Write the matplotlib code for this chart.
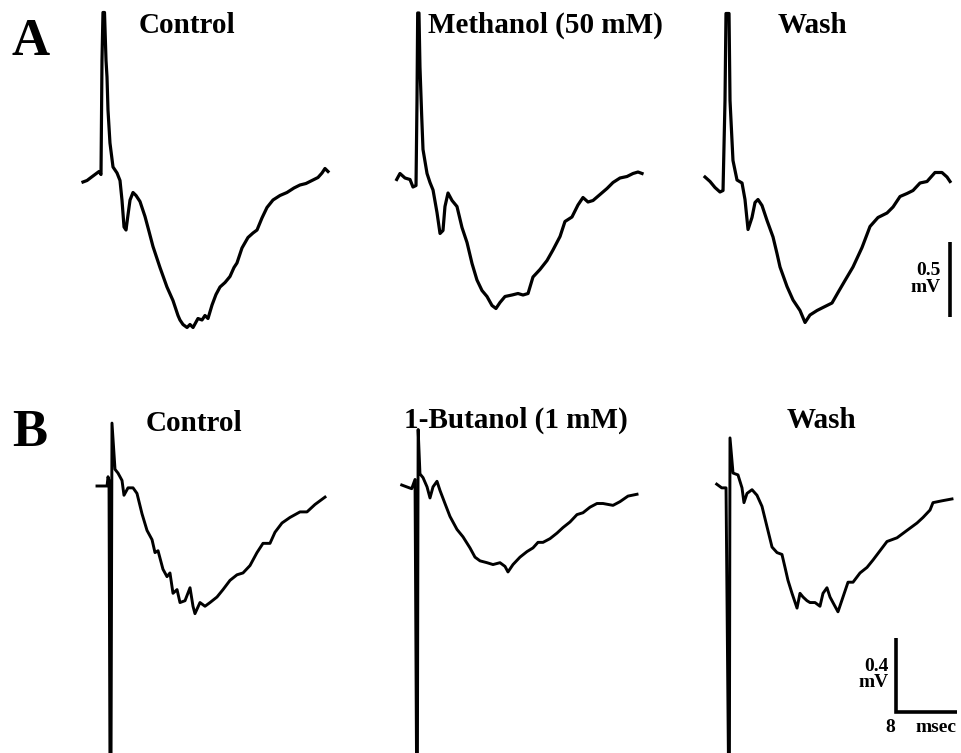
import matplotlib
matplotlib.use("Agg")
import matplotlib.pyplot as plt

# traces: time in msec after the stimulus, voltage in mV from the baseline
a_control_t = [-2.37, -1.84, -1.32, -0.79, -0.26, 0.0, 0.13, 0.26, 0.46, 0.66, 0.79, 0.92, 1.18, 1.58, 2.11,
               2.50, 2.76, 3.03, 3.29, 3.55, 3.82, 4.21, 4.61, 5.13, 5.79, 6.32, 6.84, 7.76, 8.68, 9.47,
               10.13, 10.39, 10.79, 11.32, 11.71, 12.11, 12.76, 13.29, 13.68, 14.08, 14.61, 15.13, 15.66, 16.32, 16.97,
               17.50, 17.89, 18.55, 19.34, 20.00, 20.53, 21.18, 21.84, 22.63, 23.55, 24.47, 25.39, 26.18, 26.97, 27.76,
               28.55, 29.08, 29.47, 29.87]
a_control_v = [-0.04, -0.03, -0.01, 0.01, 0.03, 0.01, 0.77, 1.09, 1.09, 0.77, 0.66, 0.44, 0.22, 0.06, 0.02,
               -0.03, -0.16, -0.34, -0.36, -0.26, -0.16, -0.11, -0.13, -0.17, -0.27, -0.37, -0.47, -0.61, -0.74, -0.83,
               -0.93, -0.96, -0.99, -1.01, -0.99, -1.01, -0.95, -0.96, -0.93, -0.95, -0.86, -0.79, -0.74, -0.71, -0.67,
               -0.61, -0.58, -0.48, -0.41, -0.38, -0.36, -0.28, -0.21, -0.16, -0.13, -0.11, -0.08, -0.06, -0.05, -0.03,
               -0.01, 0.02, 0.05, 0.03]

a_methanol_t = [-2.67, -2.24, -1.58, -0.92, -0.53, -0.13, 0.0, 0.09, 0.26, 0.39, 0.62, 0.79, 1.32, 1.71, 2.11,
                2.63, 3.03, 3.42, 3.68, 4.08, 4.61, 5.26, 5.92, 6.58, 7.24, 7.89, 8.55, 9.21, 9.87, 10.39,
                10.92, 11.58, 12.50, 13.29, 13.95, 14.61, 15.26, 16.18, 17.11, 17.89, 18.82, 19.47, 20.39, 21.18, 21.84,
                22.50, 23.16, 24.08, 25.00, 25.79, 26.71, 27.63, 28.42, 29.08, 29.61]
a_methanol_v = [-0.01, 0.03, 0.00, -0.01, -0.06, -0.05, 0.52, 1.10, 1.10, 0.74, 0.41, 0.19, 0.03, -0.03, -0.08,
                -0.23, -0.37, -0.35, -0.19, -0.10, -0.15, -0.19, -0.33, -0.43, -0.57, -0.68, -0.75, -0.79, -0.85, -0.87,
                -0.83, -0.79, -0.78, -0.77, -0.78, -0.77, -0.66, -0.61, -0.55, -0.48, -0.39, -0.29, -0.26, -0.18, -0.13,
                -0.16, -0.15, -0.11, -0.07, -0.03, 0.00, 0.01, 0.03, 0.04, 0.03]

a_wash_t = [-2.63, -1.97, -1.32, -0.66, -0.26, 0.0, 0.13, 0.53, 0.66, 1.05, 1.58, 2.24, 2.63, 3.03, 3.55,
            3.95, 4.34, 4.87, 5.53, 6.32, 6.84, 7.24, 8.16, 8.95, 9.87, 10.53, 11.18, 12.11, 12.89, 14.08,
            14.87, 15.79, 16.84, 18.03, 19.08, 20.13, 21.32, 22.11, 23.03, 23.95, 24.74, 25.66, 26.58, 27.63, 28.55,
            29.21, 29.61]
a_wash_v = [0.06, 0.03, -0.01, -0.04, -0.03, 0.57, 1.15, 1.15, 0.57, 0.17, 0.04, 0.02, -0.09, -0.29, -0.21,
            -0.11, -0.09, -0.13, -0.23, -0.34, -0.45, -0.54, -0.67, -0.76, -0.83, -0.91, -0.86, -0.83, -0.81, -0.78,
            -0.71, -0.63, -0.54, -0.41, -0.27, -0.21, -0.18, -0.14, -0.07, -0.05, -0.03, 0.02, 0.03, 0.09, 0.09,
            0.06, 0.03]

b_control_t = [-1.71, -0.39, -0.26, -0.13, 0.0, 0.13, 0.26, 0.66, 1.05, 1.58, 1.84, 2.37, 3.03, 3.55, 4.21,
               4.87, 5.53, 5.92, 6.32, 6.97, 7.50, 7.89, 8.29, 8.82, 9.21, 9.87, 10.53, 10.92, 11.18, 11.84,
               12.50, 13.16, 14.08, 14.87, 15.79, 16.71, 17.50, 18.42, 19.34, 20.13, 21.05, 21.71, 22.63, 23.68, 25.00,
               25.92, 26.97, 28.29]
b_control_v = [0.00, 0.00, 0.05, 0.03, -1.6, -1.6, 0.34, 0.09, 0.07, 0.03, -0.05, -0.01, -0.01, -0.04, -0.15,
               -0.24, -0.29, -0.36, -0.35, -0.45, -0.49, -0.47, -0.58, -0.56, -0.63, -0.62, -0.55, -0.65, -0.69, -0.63,
               -0.65, -0.63, -0.60, -0.56, -0.51, -0.48, -0.47, -0.43, -0.36, -0.31, -0.31, -0.25, -0.20, -0.17, -0.14,
               -0.14, -0.10, -0.06]

b_butanol_t = [-2.01, -1.36, -0.70, -0.26, -0.05, 0.05, 0.15, 0.39, 0.79, 1.32, 1.71, 2.11, 2.63, 3.03, 3.68,
               4.34, 5.26, 6.05, 6.97, 7.63, 8.29, 9.21, 10.00, 10.92, 11.58, 11.97, 12.63, 13.55, 14.47, 15.26,
               15.92, 16.58, 17.50, 18.42, 19.21, 20.13, 21.05, 21.84, 22.76, 23.68, 24.47, 25.79, 26.71, 27.76, 28.95]
b_butanol_v = [0.00, -0.01, -0.02, 0.03, -1.6, -1.6, 0.30, 0.06, 0.04, -0.01, -0.07, -0.01, 0.02, -0.03, -0.10,
               -0.17, -0.24, -0.28, -0.34, -0.39, -0.41, -0.42, -0.43, -0.42, -0.44, -0.47, -0.43, -0.39, -0.36, -0.34,
               -0.31, -0.31, -0.29, -0.26, -0.23, -0.20, -0.16, -0.15, -0.12, -0.10, -0.10, -0.11, -0.09, -0.06, -0.05]

b_wash_t = [-1.62, -0.96, -0.39, -0.05, 0.05, 0.13, 0.53, 1.18, 1.71, 1.97, 2.37, 3.03, 3.68, 4.34, 5.00,
            5.66, 6.32, 6.97, 7.37, 7.76, 8.29, 8.95, 9.34, 9.74, 10.26, 10.66, 11.32, 11.97, 12.37, 12.89,
            13.29, 13.68, 14.34, 15.00, 15.66, 16.32, 17.24, 18.16, 18.95, 19.87, 20.79, 22.11, 23.42, 24.74, 25.53,
            26.45, 26.84, 28.03, 29.34]
b_wash_v = [0.01, -0.01, -0.01, -1.6, -1.6, 0.26, 0.07, 0.06, -0.01, -0.09, -0.04, -0.02, -0.05, -0.11, -0.22,
            -0.33, -0.36, -0.37, -0.44, -0.51, -0.58, -0.66, -0.58, -0.60, -0.62, -0.63, -0.63, -0.65, -0.58, -0.55,
            -0.60, -0.63, -0.68, -0.60, -0.52, -0.52, -0.47, -0.44, -0.40, -0.35, -0.30, -0.28, -0.24, -0.20, -0.17,
            -0.13, -0.09, -0.08, -0.07]

titles_a = ["Control", "Methanol (50 mM)", "Wash"]
titles_b = ["Control", "1-Butanol (1 mM)", "Wash"]
scale_a_mv = 0.5
scale_b_mv = 0.4
scale_b_ms = 8

W, H = 961, 753
PX_PER_MS = 7.6
T_LIM = (-4, 32)
V_LIM = (-2.5, 1.5)
SERIF = "Liberation Serif"

fig = plt.figure(figsize=(W / 100, H / 100), dpi=100)
fig.patch.set_facecolor("white")


def trace_axes(stim_px, base_px, px_per_mv):
    """axes whose data units map to fixed pixel sizes; stim_px/base_px mark t=0, v=0"""
    left = stim_px + T_LIM[0] * PX_PER_MS
    width = (T_LIM[1] - T_LIM[0]) * PX_PER_MS
    top = base_px - V_LIM[1] * px_per_mv
    height = (V_LIM[1] - V_LIM[0]) * px_per_mv
    ax = fig.add_axes([left / W, 1 - (top + height) / H, width / W, height / H])
    ax.set_xlim(*T_LIM)
    ax.set_ylim(*V_LIM)
    ax.axis("off")
    ax.patch.set_visible(False)
    return ax


def ftext(x, y, s, size, **kw):
    fig.text(x / W, 1 - y / H, s, fontsize=size, fontweight="bold", family=SERIF, **kw)


# row A
row_a = [(101, 176, a_control_t, a_control_v), (417, 178, a_methanol_t, a_methanol_v), (725, 186, a_wash_t, a_wash_v)]
axes_a = []
for stim, base, t, v in row_a:
    ax = trace_axes(stim, base, 150)
    ax.plot(t, v, color="black", lw=2.3, solid_joinstyle="round")
    axes_a.append(ax)

# row B
row_b = [(110, 486, b_control_t, b_control_v), (417, 485, b_butanol_t, b_butanol_v), (729, 486, b_wash_t, b_wash_v)]
axes_b = []
for stim, base, t, v in row_b:
    ax = trace_axes(stim, base, 185)
    ax.plot(t, v, color="black", lw=2.1, solid_joinstyle="round", clip_on=False)
    axes_b.append(ax)

# scale bars
ax = axes_a[2]
ax.plot([29.6, 29.6], [-0.37, -0.37 - scale_a_mv], color="black", lw=2.6, solid_capstyle="butt")
ax.text(28.4, -0.37 - scale_a_mv / 2, "0.5\nmV", ha="right", va="center", fontsize=14,
        fontweight="bold", family=SERIF, linespacing=0.95)

ax = axes_b[2]
bx, by = 21.97, -1.22
ax.plot([bx, bx, bx + scale_b_ms], [by + scale_b_mv, by, by], color="black", lw=2.6,
        solid_joinstyle="miter", solid_capstyle="butt")
ax.text(bx - 1.0, by + scale_b_mv / 2, "0.4\nmV", ha="right", va="center", fontsize=14,
        fontweight="bold", family=SERIF, linespacing=0.95)
ax.text(bx - 0.7, by - 0.04, "8", ha="center", va="top", fontsize=14, fontweight="bold", family=SERIF)
ax.text(bx + scale_b_ms, by - 0.04, "msec", ha="right", va="top", fontsize=14, fontweight="bold", family=SERIF)

# panel letters and titles
ftext(12, 55, "A", 38)
ftext(12, 446, "B", 38)
ftext(187, 33, titles_a[0], 21, ha="center")
ftext(428, 33, titles_a[1], 21, ha="left")
ftext(778, 33, titles_a[2], 21, ha="left")
ftext(194, 431, titles_b[0], 21, ha="center")
ftext(404, 428, titles_b[1], 21, ha="left")
ftext(787, 428, titles_b[2], 21, ha="left")

plt.savefig("out.png", dpi=100, facecolor="white")
